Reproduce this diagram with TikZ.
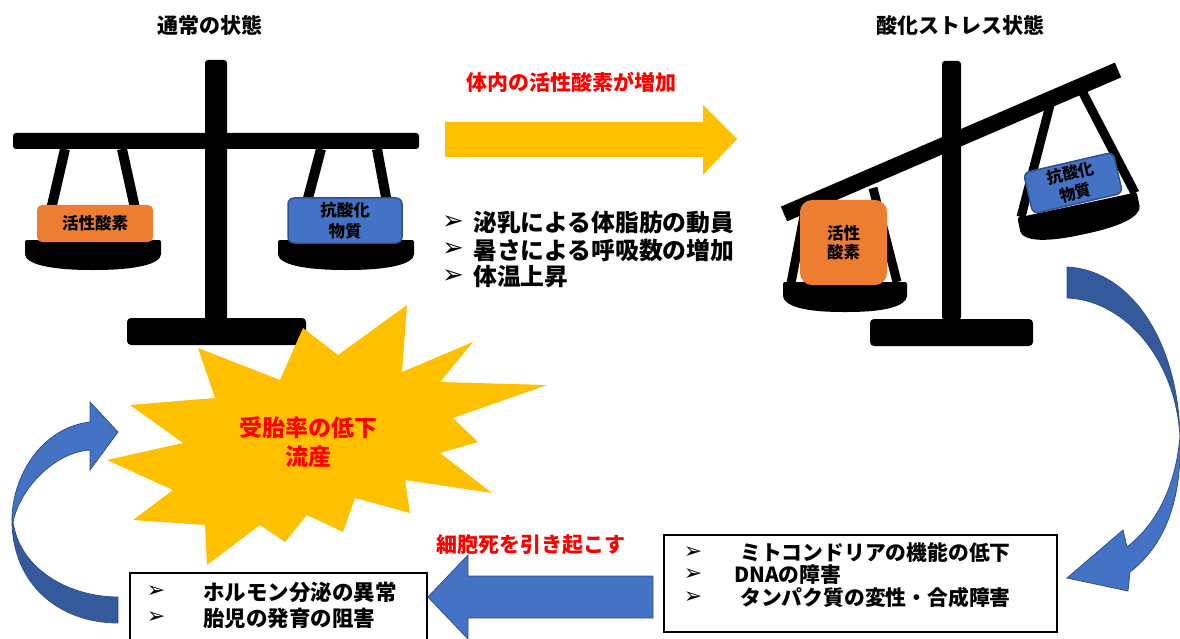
\documentclass[tikz,border=0pt]{standalone}
\usepackage{fontspec}
\newfontfamily\jp{Noto Sans CJK JP}
\newfontfamily\dv{DejaVu Sans}
\definecolor{orng}{HTML}{ED7D31}
\definecolor{bluef}{HTML}{4472C4}
\definecolor{bluel}{HTML}{2F528F}
\definecolor{blued}{HTML}{355A9C}
\definecolor{yel}{HTML}{FFC000}
\definecolor{redt}{HTML}{FF0000}
\newcommand\fsz[1]{\fontsize{#1}{#1}\selectfont}
% a scale pan: top centre (#1,#2), half width #3, tilt #4
\newcommand\drawpan[4]{%
  \begin{scope}[shift={(#1,#2)},rotate=#4]
    \fill[rounded corners=2] (-#3,0) -- (#3,0) -- (#3,16)
      .. controls (#3-8,27) and (30,30) .. (0,30)
      .. controls (-30,30) and (-#3+8,27) .. (-#3,16) -- cycle;
  \end{scope}}
\begin{document}
\begin{tikzpicture}[x=1pt,y=-1pt,
  jptxt/.style={font=\jp\bfseries, inner sep=0pt, align=center},
  obox/.style={fill=orng, rounded corners=5, inner sep=0pt},
  bbox/.style={fill=bluef, draw=bluel, line width=1.5, rounded corners=6, inner sep=0pt},
  string/.style={line width=10},
  listbox/.style={draw=black, line width=1.8, fill=white, inner sep=0pt},
  bullet/.style={font=\dv\fontsize{22}{22}\selectfont, inner sep=0pt},
  blockarrow/.style={fill=bluef, draw=bluel, line width=0.8},
  backarrow/.style={fill=blued, draw=bluel, line width=0.8}]
\useasboundingbox (0,0) rectangle (1180,639);
\clip (0,0) rectangle (1180,639);

% ---------- normal state: level balance ----------
\node[jptxt, font=\jp\bfseries\fsz{21}] (tnorm) at (210,25) {通常の状態};
\fill[rounded corners=3] (205,60) rectangle (227,320);
\fill[rounded corners=3] (13,133) rectangle (419,149);
\fill[rounded corners=4] (127,318) rectangle (306,345);
\draw[string] (65,149) -- (44,240);
\draw[string] (122,149) -- (142,240);
\draw[string] (321,149) -- (297,240);
\draw[string] (377,149) -- (394,240);
\drawpan{93}{240}{68}{0}
\drawpan{346}{240}{68}{0}
\node[obox, minimum width=116, minimum height=37] (lros) at (95,223.5) {};
\node[jptxt, font=\jp\bfseries\fsz{16.5}] (lrostxt) at (lros) {活性酸素};
\node[bbox, minimum width=114, minimum height=45] (lanti) at (345,220.5) {};
\node[jptxt, font=\jp\bfseries\fsz{16.5}] (lantitxt) at (lanti) {抗酸化\\[5pt]物質};

% ---------- oxidative stress: tilted balance ----------
\node[jptxt, font=\jp\bfseries\fsz{21}] (tstress) at (960,25) {酸化ストレス状態};
\fill[rounded corners=3] (942,61) rectangle (961,320);
\fill[rounded corners=4] (870,319) rectangle (1033,346);
\draw[line width=16] (784,214) -- (1118,70);
\draw[line width=9] (806,206) -- (791,283);
\draw[line width=9] (873,188) -- (897,282);
\draw[line width=9] (1050,105) -- (1021,217);
\draw[line width=9] (1083,93) -- (1135,193);
\drawpan{845}{282}{62}{0}
\drawpan{1077}{205}{61}{12}
\node[obox, rounded corners=12, minimum width=87, minimum height=85] (rros) at (843.5,242.5) {};
\node[jptxt, font=\jp\bfseries\fsz{16.5}] (rrostxt) at (rros) {活性\\[3pt]酸素};
\node[bbox, minimum width=92, minimum height=42, rotate=13] (ranti) at (1073,183) {};
\node[jptxt, font=\jp\bfseries\fsz{16}, rotate=13] (rantitxt) at (ranti) {抗酸化\\[4pt]物質};

% ---------- transition arrow and causes ----------
\node[jptxt, text=redt, font=\jp\bfseries\fsz{21}] (incr) at (571,82) {体内の活性酸素が増加};
\fill[yel] (445,122) -- (703,122) -- (703,105) -- (737,139) -- (703,175)
  -- (703,157) -- (445,157) -- cycle;
\foreach \i/\yy/\t in {1/223/泌乳による体脂肪の動員, 2/250/暑さによる呼吸数の増加, 3/277/体温上昇}{
  \node[bullet, font=\dv\fontsize{26}{26}\selectfont] (cb\i) at (453,\yy) {➢};
  \node[jptxt, anchor=west, font=\jp\bfseries\fsz{23.8}] (ct\i) at (473,\yy) {\t};
}

% ---------- outcome burst ----------
\fill[yel] (407,305) -- (402,372) -- (473,342) -- (440,382) -- (547,385)
  -- (453,418) -- (478,442) -- (440,453) -- (492,493) -- (405,480)
  -- (410,513) -- (355,498) -- (343,532) -- (307,515) -- (285,542)
  -- (260,525) -- (207,565) -- (205,525) -- (133,520) -- (173,490)
  -- (107,460) -- (183,443) -- (130,405) -- (215,398) -- (198,348)
  -- (280,380) -- (303,328) -- (338,355) -- cycle;
\node[jptxt, text=redt, font=\jp\bfseries\fsz{23}] (burst) at (308,442) {受胎率の低下\\[6pt]流産};

% ---------- cell damage box ----------
\node[listbox, minimum width=393, minimum height=97] (dmg) at (860.5,583.5) {};
\foreach \i/\yy/\xx/\t in {1/553/740/ミトコンドリアの機能の低下, 2/575/734/DNAの障害, 3/598/740/タンパク質の変性・合成障害}{
  \node[bullet] (db\i) at (693,\yy) {➢};
  \node[jptxt, anchor=west, font=\jp\bfseries\fsz{20.8}] (dt\i) at (\xx,\yy) {\t};
}

% ---------- fetal damage box ----------
\node[listbox, minimum width=297, minimum height=80] (fet) at (278.5,613) {};
\foreach \i/\yy/\t in {1/592/ホルモン分泌の異常, 2/618/胎児の発育の阻害}{
  \node[bullet] (fb\i) at (156,\yy) {➢};
  \node[jptxt, anchor=west, font=\jp\bfseries\fsz{21.5}] (ft\i) at (203,\yy) {\t};
}

% ---------- arrow from damage box to fetal box ----------
\node[jptxt, text=redt, font=\jp\bfseries\fsz{21}] (death) at (531,545) {細胞死を引き起こす};
\coordinate (tiplevel) at (0,597);
\draw[blockarrow] (653,576) -- (468,576) -- (468,555) -- (fet.east |- tiplevel)
  -- (468,639) -- (468,618) -- (653,618) -- cycle;

% ---------- curved arrow: stressed balance down to damage box ----------
\draw[backarrow] (1067,267) .. controls (1130,270) and (1178,340) .. (1180,437)
  .. controls (1176,360) and (1125,300) .. (1067,298) -- cycle;
\draw[blockarrow] (1180,437) .. controls (1182,500) and (1165,545) .. (1130,572)
  -- (1128,591) -- (1067,578) -- (1123,530) -- (1127,547)
  .. controls (1155,525) and (1175,490) .. (1180,437) -- cycle;

% ---------- curved arrow: fetal box up to burst ----------
\draw[backarrow] (12,520) .. controls (12,585) and (60,623) .. (118,623)
  -- (118,597) .. controls (70,597) and (20,570) .. (13,522) -- cycle;
\draw[blockarrow] (12,520) .. controls (12,478) and (40,428) .. (90,422)
  -- (90,402) -- (118,432) -- (90,470) -- (90,450)
  .. controls (55,452) and (20,488) .. (13,522) -- cycle;
\end{tikzpicture}
\end{document}
